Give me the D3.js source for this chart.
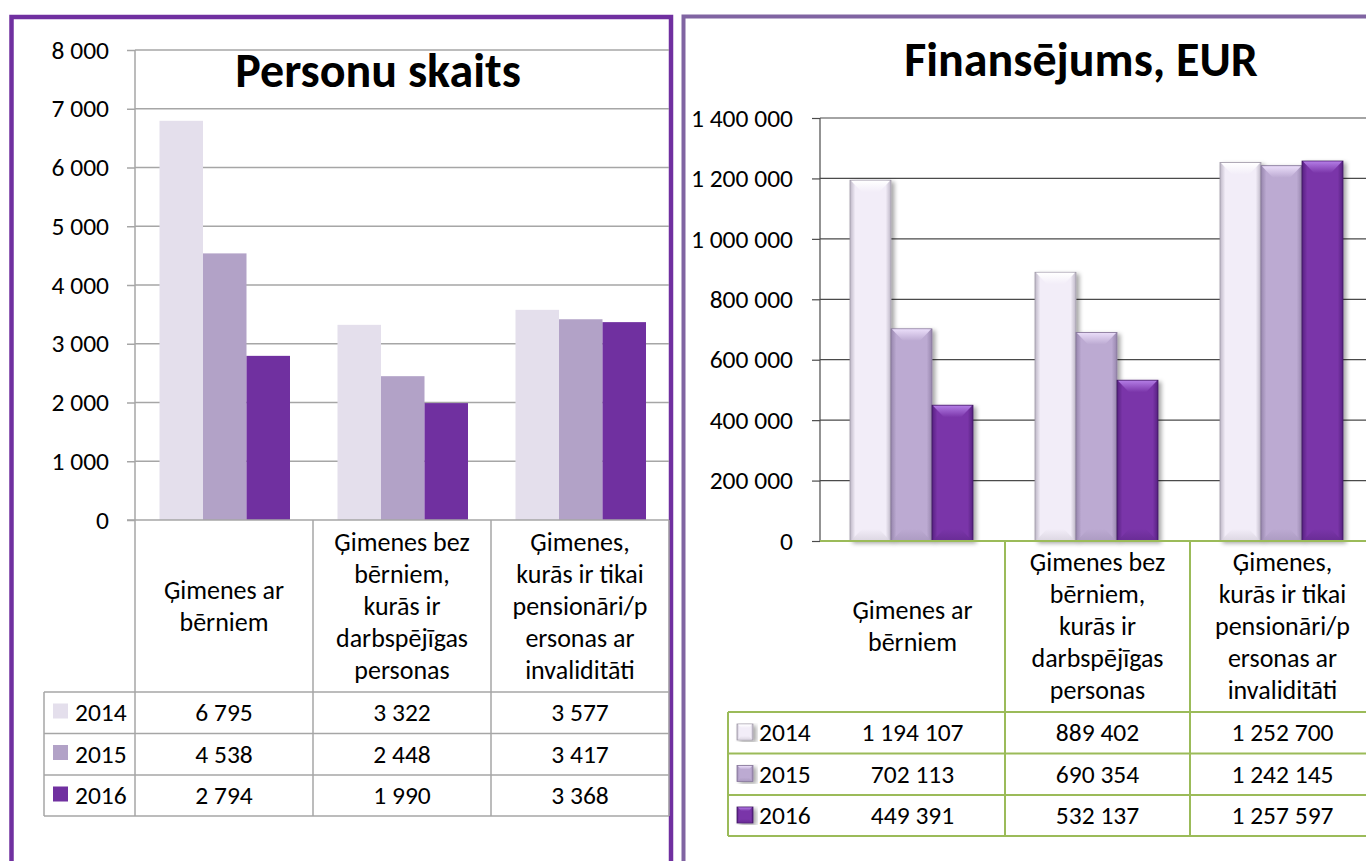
<!DOCTYPE html>
<html><head><meta charset="utf-8">
<script src="https://cdn.jsdelivr.net/npm/d3@7"></script>
<style>
body{margin:0;background:#fff}
svg{display:block}
text{font-family:Carlito, Lato, "Liberation Sans", sans-serif;fill:#000}
</style>
</head><body>
<svg id="c" width="1366" height="861"></svg>
<script>
// ---------- DATA ----------
const years = ["2014", "2015", "2016"];
const categoryLines = [
  ["Ģimenes ar", "bērniem"],
  ["Ģimenes bez", "bērniem,", "kurās ir", "darbspējīgas", "personas"],
  ["Ģimenes,", "kurās ir tikai", "pensionāri/p", "ersonas ar", "invaliditāti"]
];
const persons2014 = [6795, 3322, 3577];
const persons2015 = [4538, 2448, 3417];
const persons2016 = [2794, 1990, 3368];
const funding2014 = [1194107, 889402, 1252700];
const funding2015 = [702113, 690354, 1242145];
const funding2016 = [449391, 532137, 1257597];
const personsTicks = [0, 1000, 2000, 3000, 4000, 5000, 6000, 7000, 8000];
const fundingTicks = [0, 200000, 400000, 600000, 800000, 1000000, 1200000, 1400000];
const titleLeft = "Personu skaits";
const titleRight = "Finansējums, EUR";

const personsSeries = [persons2014, persons2015, persons2016];
const fundingSeries = [funding2014, funding2015, funding2016];

// ---------- SETUP ----------
const FS = 25.5;   // numbers
const FL = 26;     // category labels
const FT = 48;     // titles
const fmt = d3.formatLocale({decimal: ",", thousands: " ", grouping: [3], currency: ["", ""]}).format(",d");
const svg = d3.select("#c");
svg.append("rect").attr("width", 1366).attr("height", 861).attr("fill", "#fff");
const defs = svg.append("defs");

// panel borders
svg.append("rect").attr("x", 11.5).attr("y", 17).attr("width", 659.5).attr("height", 900)
  .attr("fill", "none").attr("stroke", "#7030a0").attr("stroke-width", 4.5);
svg.append("rect").attr("x", 683.5).attr("y", 16.5).attr("width", 720).attr("height", 900)
  .attr("fill", "none").attr("stroke", "#8064a2").attr("stroke-width", 4);

function drawTable(g, o) {
  const line = (x1, y1, x2, y2) => g.append("line").attr("x1", x1).attr("y1", y1).attr("x2", x2).attr("y2", y2)
    .attr("stroke", o.color).attr("stroke-width", o.sw);
  const bottom = o.rowTops[o.rowTops.length - 1];
  line(o.axisX, o.headTop, o.right, o.headTop);
  o.rowTops.forEach(y => line(o.legendX, y, o.right, y));
  line(o.legendX, o.rowTops[0], o.legendX, bottom);
  o.xBand.domain().forEach(i => {
    const x = o.xBand(i) + o.xBand.bandwidth();
    line(x, o.headTop, x, bottom);
  });
  // header labels
  const cy = (o.headTop + o.rowTops[0]) / 2;
  categoryLines.forEach((lines, i) => {
    const cx = o.xBand(i) + o.xBand.bandwidth() / 2;
    lines.forEach((t, j) => {
      g.append("text").attr("x", cx).attr("y", cy + (j - (lines.length - 1) / 2) * 32 + 8.5)
        .attr("text-anchor", "middle").attr("font-size", FL).text(t);
    });
  });
  // rows
  years.forEach((yr, r) => {
    const top = o.rowTops[r], h = o.rowTops[r + 1] - top;
    const base = top + h / 2 + 8.5;
    o.swatch(g, o.legendX + o.swOff, top + 12.5, yr);
    g.append("text").attr("x", o.legendX + o.txtOff).attr("y", base).attr("font-size", FS).text(yr);
    o.series[r].forEach((v, i) => {
      g.append("text").attr("x", o.xBand(i) + o.xBand.bandwidth() / 2).attr("y", base)
        .attr("text-anchor", "middle").attr("font-size", FS).text(fmt(v));
    });
  });
}

// ---------- LEFT CHART ----------
(function () {
  const g = svg.append("g");
  const flat = ["#e4dfec", "#b2a2c7", "#7030a0"];
  const y = d3.scaleLinear().domain([0, 8000]).range([520, 50]);
  const x = d3.scaleBand().domain(d3.range(3)).range([135, 669]);
  const xi = d3.scaleBand().domain(years).range([24.5, 155]);
  g.append("g").selectAll("line").data(personsTicks.filter(t => t > 0)).join("line")
    .attr("x1", 135).attr("x2", 669).attr("y1", d => y(d)).attr("y2", d => y(d))
    .attr("stroke", "#a6a6a6").attr("stroke-width", 1.5);
  g.append("text").attr("x", 378).attr("y", 87).attr("text-anchor", "middle")
    .attr("font-size", FT).attr("font-weight", "bold").text(titleLeft);
  years.forEach((yr, s) => {
    g.append("g").selectAll("rect").data(personsSeries[s]).join("rect")
      .attr("x", (d, i) => x(i) + xi(yr)).attr("width", xi.bandwidth())
      .attr("y", d => y(d)).attr("height", d => y(0) - y(d)).attr("fill", flat[s]);
  });
  const ax = g.append("g").attr("transform", "translate(135,0)")
    .call(d3.axisLeft(y).tickValues(personsTicks).tickFormat(fmt).tickSize(8).tickSizeOuter(0).tickPadding(18));
  ax.select(".domain").remove();
  ax.selectAll(".tick line").attr("stroke", "#a6a6a6").attr("stroke-width", 1.5);
  ax.selectAll(".tick text").attr("font-size", FS).attr("font-family", null).attr("fill", "#000");
  g.append("line").attr("x1", 135).attr("x2", 135).attr("y1", y(8000)).attr("y2", 520)
    .attr("stroke", "#a6a6a6").attr("stroke-width", 1.5);
  drawTable(g, {
    axisX: 127, right: 669, legendX: 44, headTop: 520, rowTops: [692, 733.5, 775, 816],
    color: "#a6a6a6", sw: 1.5, xBand: x, series: personsSeries, swOff: 9, txtOff: 31,
    swatch: (gg, sx, sy, yr) => gg.append("rect").attr("x", sx).attr("y", sy - 1).attr("width", 15).attr("height", 15)
      .attr("fill", flat[years.indexOf(yr)])
  });
  g.append("line").attr("x1", 135).attr("x2", 135).attr("y1", 520).attr("y2", 816)
    .attr("stroke", "#a6a6a6").attr("stroke-width", 1.5);
})();

// ---------- RIGHT CHART (bevelled) ----------
const bevel = [
  {body: "#f2edf8", edge: "#bdb6c6", hi: "#ffffff", lo: "#d8d2de", stroke: "#9e98a6"},
  {body: "#bcaad2", edge: "#9786ad", hi: "#e9dcf8", lo: "#a998bf", stroke: "#857599"},
  {body: "#7a35a9", edge: "#562080", hi: "#b27ce4", lo: "#652a91", stroke: "#3d1560"}
];
bevel.forEach((c, i) => {
  const hg = defs.append("linearGradient").attr("id", "hg" + i).attr("x1", 0).attr("x2", 1).attr("y1", 0).attr("y2", 0);
  [[0, c.edge], [0.13, c.body], [0.87, c.body], [1, c.edge]].forEach(s =>
    hg.append("stop").attr("offset", s[0]).attr("stop-color", s[1]));
  const tg = defs.append("linearGradient").attr("id", "tg" + i).attr("x1", 0).attr("x2", 0).attr("y1", 0).attr("y2", 1);
  [[0, c.hi], [1, c.body]].forEach(s => tg.append("stop").attr("offset", s[0]).attr("stop-color", s[1]));
  const bg = defs.append("linearGradient").attr("id", "bg" + i).attr("x1", 0).attr("x2", 0).attr("y1", 0).attr("y2", 1);
  [[0, c.body], [1, c.lo]].forEach(s => bg.append("stop").attr("offset", s[0]).attr("stop-color", s[1]));
});
const sh = defs.append("filter").attr("id", "shadow").attr("x", "-20%").attr("y", "-5%").attr("width", "150%").attr("height", "115%");
sh.append("feDropShadow").attr("dx", 3).attr("dy", 2).attr("stdDeviation", 2).attr("flood-color", "#000").attr("flood-opacity", 0.35);

function bevelBar(g, x, y, w, h, i, b) {
  b = Math.min(b, h / 2, w / 2.5);
  const gg = g.append("g");
  gg.append("rect").attr("x", x).attr("y", y).attr("width", w).attr("height", h)
    .attr("fill", `url(#hg${i})`).attr("stroke", bevel[i].stroke).attr("stroke-width", 0.8).attr("filter", "url(#shadow)");
  gg.append("path").attr("d", `M${x + 1},${y + 0.5}L${x + w - 1},${y + 0.5}L${x + w - b},${y + b}L${x + b},${y + b}Z`)
    .attr("fill", `url(#tg${i})`);
  gg.append("path").attr("d", `M${x + 1},${y + h - 0.5}L${x + w - 1},${y + h - 0.5}L${x + w - b},${y + h - b}L${x + b},${y + h - b}Z`)
    .attr("fill", `url(#bg${i})`).attr("opacity", 0.8);
}

(function () {
  const g = svg.append("g");
  const y = d3.scaleLinear().domain([0, 1400000]).range([541, 118]);
  const x = d3.scaleBand().domain(d3.range(3)).range([820, 1375]);
  const xi = d3.scaleBand().domain(years).range([30, 153]);
  g.append("g").selectAll("line").data(fundingTicks.filter(t => t > 0)).join("line")
    .attr("x1", 820).attr("x2", 1375).attr("y1", d => y(d)).attr("y2", d => y(d))
    .attr("stroke", "#4a4a4a").attr("stroke-width", 1.2);
  g.append("text").attr("x", 1081).attr("y", 76).attr("text-anchor", "middle")
    .attr("font-size", FT).attr("font-weight", "bold").text(titleRight);
  years.forEach((yr, s) => {
    fundingSeries[s].forEach((v, i) => {
      bevelBar(g, x(i) + xi(yr), y(v), xi.bandwidth(), y(0) - y(v), s, 12);
    });
  });
  const ax = g.append("g").attr("transform", "translate(820,0)")
    .call(d3.axisLeft(y).tickValues(fundingTicks).tickFormat(fmt).tickSize(8).tickSizeOuter(0).tickPadding(19));
  ax.select(".domain").remove();
  ax.selectAll(".tick line").attr("stroke", "#4a4a4a").attr("stroke-width", 1.2);
  ax.selectAll(".tick text").attr("font-size", FS).attr("font-family", null).attr("fill", "#000");
  g.append("line").attr("x1", 820).attr("x2", 820).attr("y1", y(1400000)).attr("y2", 541)
    .attr("stroke", "#4a4a4a").attr("stroke-width", 1.2);
  drawTable(g, {
    axisX: 820, right: 1375, legendX: 728, headTop: 541, rowTops: [712, 753.5, 795, 836],
    color: "#9bbb59", sw: 2, xBand: x, series: fundingSeries, swOff: 9, txtOff: 31,
    swatch: (gg, sx, sy, yr) => bevelBar(gg, sx, sy - 0.5, 16, 16, years.indexOf(yr), 4)
  });
})();
</script>
</body></html>
